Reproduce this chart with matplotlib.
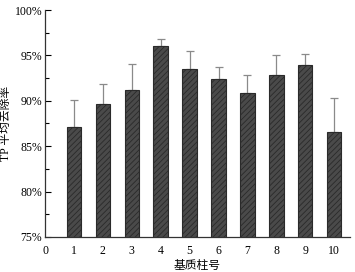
import numpy as np
import matplotlib.pyplot as plt
from matplotlib.ticker import MultipleLocator

plt.rcParams['font.family'] = ['Liberation Serif', 'Noto Sans CJK SC']
plt.rcParams['hatch.color'] = '#9a9a9a'
plt.rcParams['hatch.linewidth'] = 0.6

# data
columns = [1, 2, 3, 4, 5, 6, 7, 8, 9, 10]
removal = [87.1, 89.6, 91.2, 96.0, 93.5, 92.4, 90.9, 92.8, 93.9, 86.6]
err_up = [3.0, 2.3, 2.9, 0.85, 2.0, 1.3, 1.9, 2.2, 1.3, 3.7]

fig = plt.figure(figsize=(3.55, 2.72), dpi=100)
ax = fig.add_axes([0.127, 0.129, 0.859, 0.834])

ax.bar(columns, removal, width=0.5, bottom=0, color='#4a4a4a',
       edgecolor='#2a2a2a', linewidth=0.8, hatch='//////', zorder=2)
ax.errorbar(columns, removal, yerr=[np.zeros(len(err_up)), err_up],
            fmt='none', ecolor='#8a8a8a', elinewidth=0.9, capsize=3,
            capthick=0.9, zorder=1)

ax.set_ylim(75, 100)
ax.set_xlim(0, 10.55)
ax.yaxis.set_minor_locator(MultipleLocator(2.5))
ax.set_yticks(np.arange(75, 101, 5))
ax.set_yticklabels([f'{v}%' for v in range(75, 101, 5)], fontsize=8.5)
ax.set_xticks(range(0, 11))
ax.set_xticklabels([str(i) for i in range(0, 11)], fontsize=8.5)
ax.tick_params(axis='x', length=0, pad=6)
ax.tick_params(axis='y', which='major', direction='in', length=4, width=0.8, pad=2)
ax.tick_params(axis='y', which='minor', direction='in', length=3, width=0.8)

for s in ['top', 'right']:
    ax.spines[s].set_visible(False)
for s in ['left', 'bottom']:
    ax.spines[s].set_linewidth(0.9)
    ax.spines[s].set_color('#333333')

ax.set_ylabel('TP 平均去除率', fontsize=8.5)
ax.yaxis.set_label_coords(-0.108, 0.5)
ax.set_xlabel('基质柱号', fontsize=8.5, labelpad=2)

fig.savefig('out.png', dpi=100)
